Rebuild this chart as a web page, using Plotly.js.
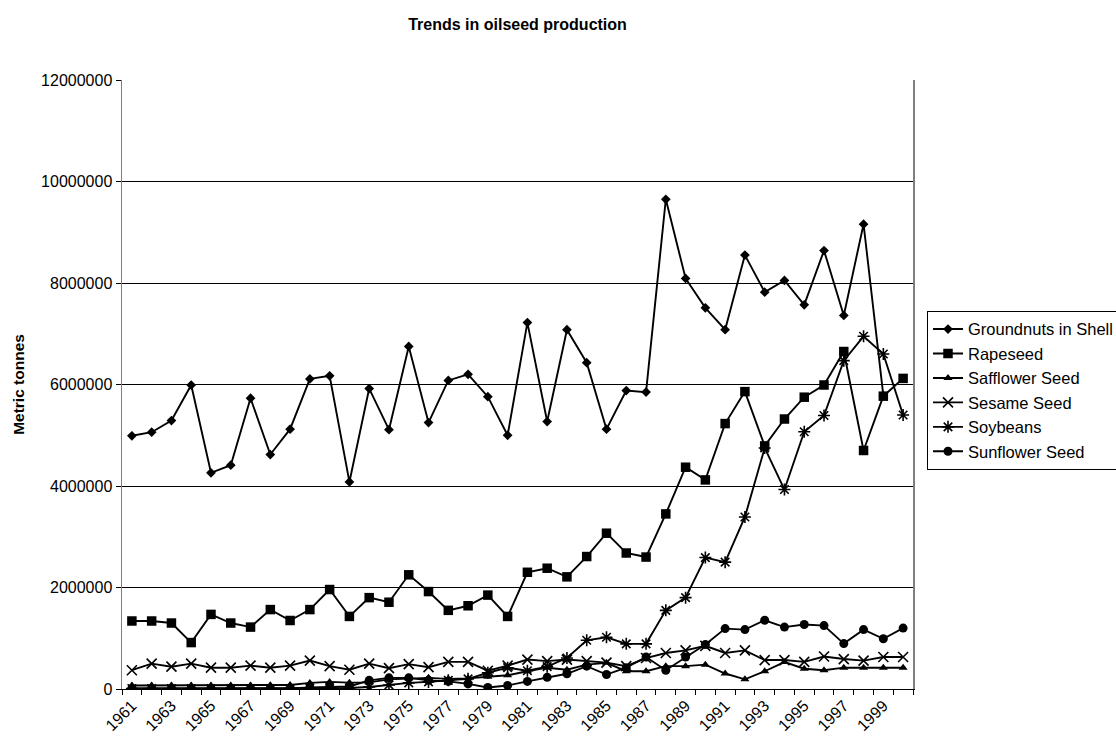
<!DOCTYPE html>
<html>
<head>
<meta charset="utf-8">
<script src="https://cdn.plot.ly/plotly-3.0.1.min.js"></script>
<style>
  html, body { margin: 0; padding: 0; background: #fff; }
  #chart { width: 1116px; height: 742px; }
</style>
</head>
<body>
<div id="chart"></div>
<script>
// Production per crop, 1961-2000, in metric tonnes
const years = [
  1961, 1962, 1963, 1964, 1965, 1966, 1967, 1968, 1969, 1970,
  1971, 1972, 1973, 1974, 1975, 1976, 1977, 1978, 1979, 1980,
  1981, 1982, 1983, 1984, 1985, 1986, 1987, 1988, 1989, 1990,
  1991, 1992, 1993, 1994, 1995, 1996, 1997, 1998, 1999, 2000
];

const groundnuts = [
  4990000, 5060000, 5290000, 5990000, 4260000, 4410000, 5730000, 4620000, 5120000, 6110000,
  6170000, 4080000, 5920000, 5110000, 6750000, 5250000, 6080000, 6200000, 5760000, 5000000,
  7220000, 5270000, 7080000, 6430000, 5120000, 5880000, 5850000, 9650000, 8090000, 7510000,
  7080000, 8550000, 7820000, 8050000, 7570000, 8640000, 7360000, 9160000, 5780000, null
];

const rapeseed = [
  1340000, 1340000, 1300000, 915000, 1470000, 1300000, 1220000, 1565000, 1350000, 1565000,
  1960000, 1430000, 1800000, 1710000, 2250000, 1920000, 1550000, 1640000, 1850000, 1430000,
  2300000, 2380000, 2210000, 2610000, 3070000, 2680000, 2600000, 3450000, 4370000, 4120000,
  5230000, 5860000, 4790000, 5320000, 5750000, 5990000, 6650000, 4700000, 5770000, 6120000
];

const safflower = [
  70000, 70000, 70000, 70000, 70000, 70000, 70000, 75000, 80000, 120000,
  140000, 125000, 130000, 190000, 210000, 220000, 200000, 210000, 240000, 270000,
  350000, 420000, 380000, 480000, 515000, 350000, 350000, 450000, 450000, 480000,
  305000, 190000, 350000, 530000, 400000, 370000, 420000, 420000, 420000, 420000
];

const sesame = [
  370000, 500000, 440000, 500000, 420000, 420000, 460000, 420000, 460000, 560000,
  450000, 380000, 500000, 410000, 490000, 430000, 535000, 535000, 360000, 460000,
  580000, 550000, 580000, 550000, 520000, 450000, 610000, 710000, 760000, 850000,
  710000, 760000, 570000, 570000, 535000, 640000, 590000, 560000, 630000, 630000
];

const soybeans = [
  10000, 10000, 10000, 10000, 10000, 10000, 10000, 10000, 10000, 20000,
  20000, 20000, 40000, 80000, 120000, 140000, 170000, 200000, 320000, 420000,
  360000, 440000, 610000, 960000, 1020000, 890000, 890000, 1550000, 1800000, 2590000,
  2500000, 3390000, 4750000, 3930000, 5070000, 5390000, 6470000, 6950000, 6600000, 5400000
];

const sunflower = [
  10000, 10000, 10000, 10000, 10000, 10000, 10000, 10000, 10000, 30000,
  40000, 50000, 170000, 220000, 220000, 170000, 150000, 100000, 30000, 70000,
  150000, 230000, 300000, 450000, 285000, 420000, 630000, 370000, 630000, 875000,
  1190000, 1170000, 1355000, 1220000, 1270000, 1250000, 895000, 1170000, 990000, 1200000
];

const seriesDefs = [
  { name: 'Groundnuts in Shell', y: groundnuts, symbol: 'diamond',       size: 7.5 },
  { name: 'Rapeseed',            y: rapeseed,   symbol: 'square',        size: 9.5 },
  { name: 'Safflower Seed',      y: safflower,  symbol: 'triangle-up',   size: 8 },
  { name: 'Sesame Seed',         y: sesame,     symbol: 'x-thin-open',   size: 10 },
  { name: 'Soybeans',            y: soybeans,   symbol: 'asterisk-open', size: 10 },
  { name: 'Sunflower Seed',      y: sunflower,  symbol: 'circle',        size: 9 }
];

const traces = seriesDefs.map(s => ({
  type: 'scatter',
  mode: 'lines+markers',
  name: s.name,
  x: years,
  y: s.y,
  connectgaps: false,
  line: { color: '#000', width: 1.9 },
  marker: {
    symbol: s.symbol,
    size: s.size,
    color: '#000',
    line: { color: '#000', width: s.symbol.indexOf('open') >= 0 ? 1.6 : 0 }
  }
}));

const oddYears = years.filter(y => y % 2 === 1);

const layout = {
  width: 1116,
  height: 742,
  paper_bgcolor: '#fff',
  plot_bgcolor: '#fff',
  font: { family: 'Arial, "Liberation Sans", sans-serif', color: '#000', size: 16 },
  margin: { l: 122, r: 203, t: 80, b: 52.5, autoexpand: false },
  title: {
    text: '<b>Trends in oilseed production</b>',
    font: { size: 16, color: '#000' },
    x: 0.5, xref: 'paper', xanchor: 'center',
    y: 1 - 24 / 742, yref: 'container', yanchor: 'middle'
  },
  showlegend: true,
  legend: {
    x: (927 - 122) / 791, xanchor: 'left',
    y: (689.5 - 311) / 609.5, yanchor: 'top',
    bordercolor: '#000', borderwidth: 1, bgcolor: '#fff',
    font: { size: 16.5, color: '#000' },
    tracegroupgap: 0,
    itemwidth: 30
  },
  xaxis: {
    type: 'linear',
    range: [1960.5, 2000.5],
    tickmode: 'array',
    tickvals: oddYears,
    ticktext: oddYears.map(String),
    tickangle: -45,
    ticks: '',
    tickfont: { size: 16 },
    showgrid: false,
    zeroline: false,
    showline: true,
    linecolor: '#000',
    linewidth: 1,
    minor: { tick0: 1960.5, dtick: 1, ticks: 'outside', ticklen: 5, tickcolor: '#000', tickwidth: 1, showgrid: false },
    fixedrange: true
  },
  yaxis: {
    range: [0, 12000000],
    tickmode: 'linear',
    tick0: 0,
    dtick: 2000000,
    tickformat: 'd',
    ticks: 'outside',
    ticklen: 5,
    tickcolor: '#000',
    tickfont: { size: 16 },
    showgrid: true,
    gridcolor: '#000',
    gridwidth: 1,
    zeroline: false,
    showline: true,
    linecolor: '#808080',
    linewidth: 1.5,
    mirror: true,
    title: { text: '<b>Metric tonnes</b>', font: { size: 15.5, color: '#000' }, standoff: 12 },
    fixedrange: true
  }
};

Plotly.newPlot('chart', traces, layout, { displayModeBar: false, staticPlot: true });
</script>
</body>
</html>
